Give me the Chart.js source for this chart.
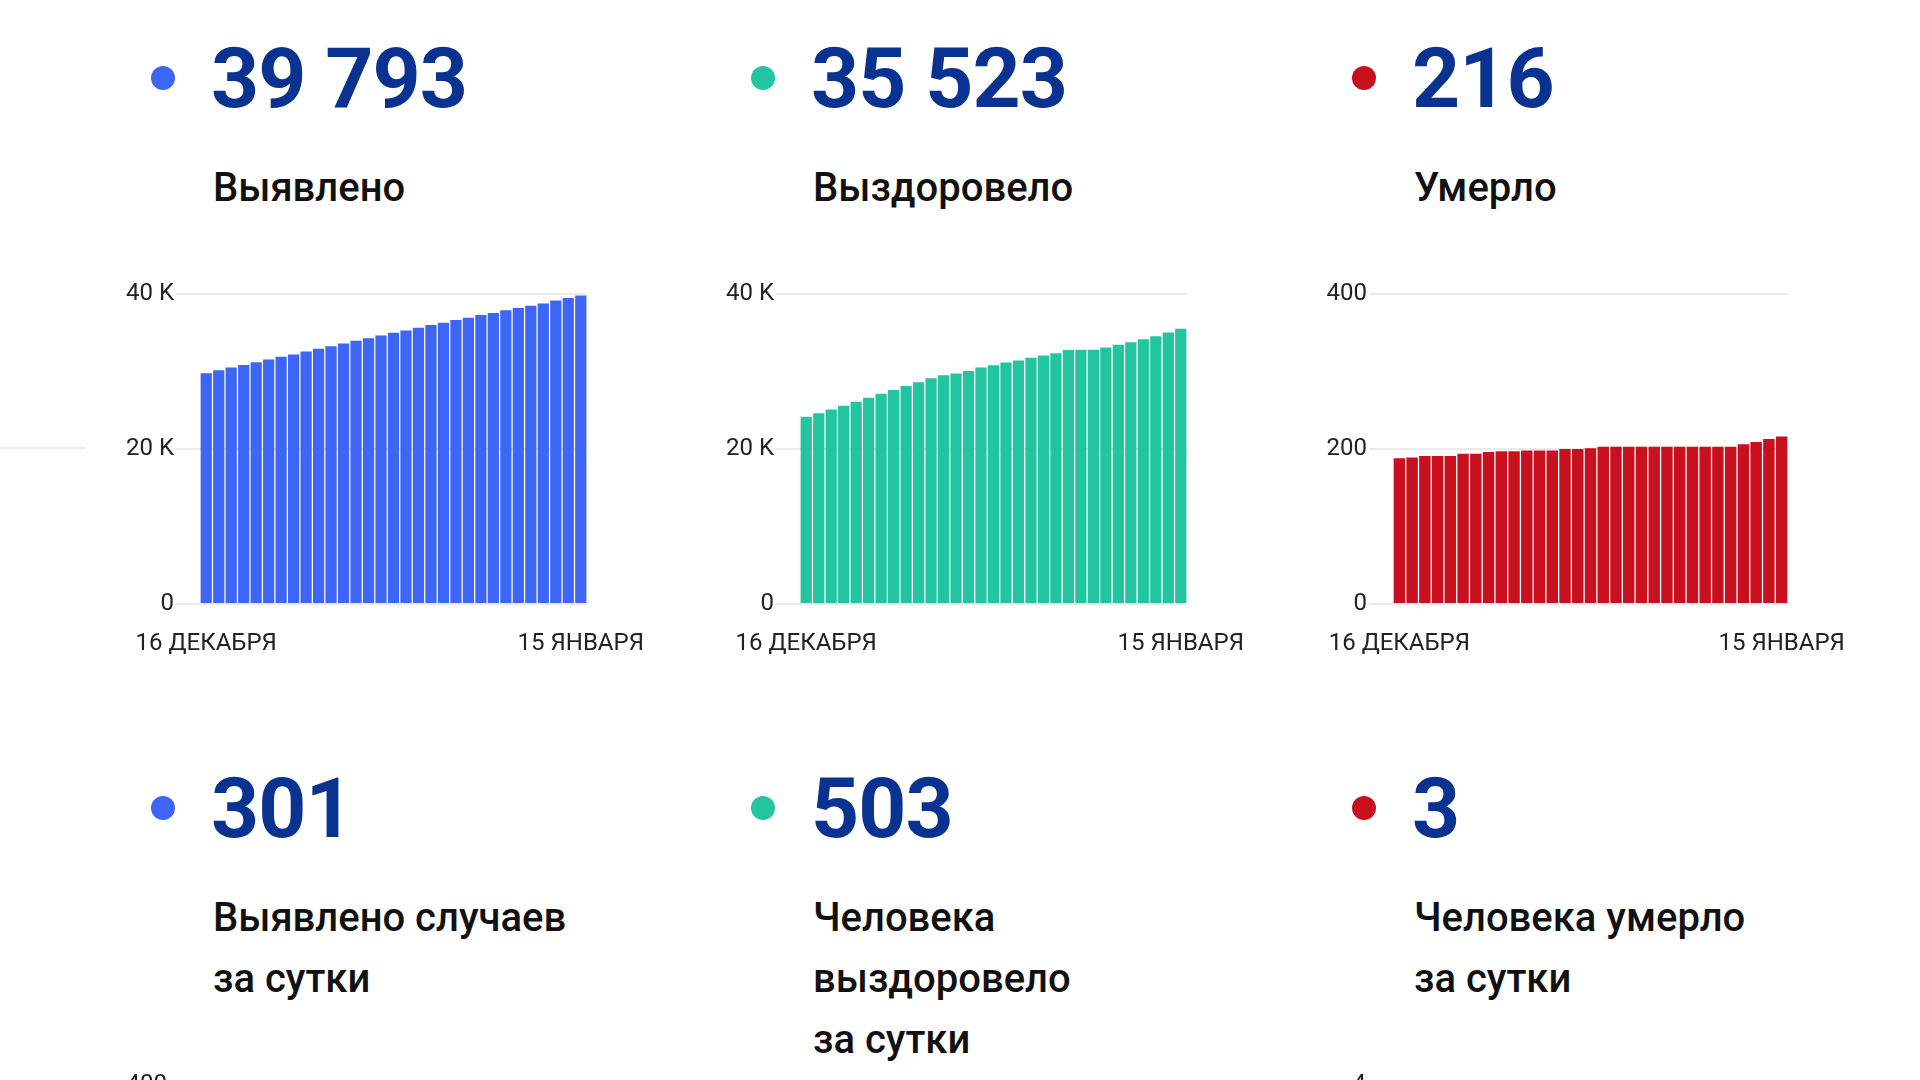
<!DOCTYPE html>
<html>
<head>
<meta charset="utf-8">
<script src="https://cdn.jsdelivr.net/npm/chart.js@4.4.1/dist/chart.umd.min.js"></script>
<style>
  html, body { margin:0; padding:0; background:#fff; }
  body { width:1920px; height:1080px; overflow:hidden; position:relative; font-family:Roboto, sans-serif; }
  .dot { position:absolute; width:24px; height:24px; border-radius:50%; }
  .num { position:absolute; font-weight:700; font-size:84px; line-height:84px; color:#0a3391; letter-spacing:-1px; white-space:nowrap; }
  .cap { position:absolute; font-weight:500; font-size:40px; line-height:61px; color:#111; white-space:nowrap; }
  .box { position:absolute; }
  .stray { position:absolute; left:0; top:447px; width:86px; height:2px; background:#eeeeee; }
</style>
</head>
<body>
<div class="stray"></div>

<div class="dot" style="left:151px;top:66px;background:#3d66f6"></div>
<div class="num" style="left:211px;top:37px">39 793</div>
<div class="cap" style="left:213px;top:157px">Выявлено</div>
<div class="box" style="left:100px;top:274px"><canvas id="c1" width="587" height="390"></canvas></div>

<div class="dot" style="left:751px;top:66px;background:#22c59f"></div>
<div class="num" style="left:811px;top:37px">35 523</div>
<div class="cap" style="left:813px;top:157px">Выздоровело</div>
<div class="box" style="left:700px;top:274px"><canvas id="c2" width="587" height="390"></canvas></div>

<div class="dot" style="left:1352px;top:66px;background:#c8101f"></div>
<div class="num" style="left:1412px;top:37px">216</div>
<div class="cap" style="left:1414px;top:157px">Умерло</div>
<div class="box" style="left:1293px;top:274px"><canvas id="c3" width="595" height="390"></canvas></div>

<div class="dot" style="left:151px;top:796px;background:#3d66f6"></div>
<div class="num" style="left:211px;top:767px">301</div>
<div class="cap" style="left:213px;top:887px">Выявлено случаев<br>за сутки</div>
<div class="box" style="left:93px;top:1065px"><canvas id="c4" width="594" height="390"></canvas></div>

<div class="dot" style="left:751px;top:796px;background:#22c59f"></div>
<div class="num" style="left:811px;top:767px">503</div>
<div class="cap" style="left:813px;top:887px">Человека<br>выздоровело<br>за сутки</div>

<div class="dot" style="left:1352px;top:796px;background:#c8101f"></div>
<div class="num" style="left:1412px;top:767px">3</div>
<div class="cap" style="left:1414px;top:887px">Человека умерло<br>за сутки</div>
<div class="box" style="left:1292px;top:1065px"><canvas id="c6" width="596" height="390"></canvas></div>

<script>
const days = ['16 ДЕКАБРЯ','17 ДЕКАБРЯ','18 ДЕКАБРЯ','19 ДЕКАБРЯ','20 ДЕКАБРЯ','21 ДЕКАБРЯ','22 ДЕКАБРЯ','23 ДЕКАБРЯ',
  '24 ДЕКАБРЯ','25 ДЕКАБРЯ','26 ДЕКАБРЯ','27 ДЕКАБРЯ','28 ДЕКАБРЯ','29 ДЕКАБРЯ','30 ДЕКАБРЯ','31 ДЕКАБРЯ',
  '1 ЯНВАРЯ','2 ЯНВАРЯ','3 ЯНВАРЯ','4 ЯНВАРЯ','5 ЯНВАРЯ','6 ЯНВАРЯ','7 ЯНВАРЯ','8 ЯНВАРЯ',
  '9 ЯНВАРЯ','10 ЯНВАРЯ','11 ЯНВАРЯ','12 ЯНВАРЯ','13 ЯНВАРЯ','14 ЯНВАРЯ','15 ЯНВАРЯ'];

const cases = [29770,30160,30510,30850,31200,31540,31890,32190,32580,32920,
  33270,33610,33960,34300,34650,34990,35300,35640,35990,36290,
  36630,36940,37280,37540,37890,38190,38490,38790,39150,39492,39793];

const recovered = [24160,24600,25110,25590,26110,26620,27140,27620,28130,28610,
  29130,29510,29730,30080,30510,30810,31150,31410,31760,32060,32360,
  32790,32800,32810,33100,33440,33790,34170,34560,35020,35523];

const deaths = [188,189,191,191,191,194,194,196,197,197,198,198,198,200,200,201,
  203,203,203,203,203,203,203,203,203,203,203,206,209,213,216];

const kTicks = [0, 20000, 40000];
const deathTicks = [0, 200, 400];

Chart.defaults.font.family = 'Roboto';
Chart.defaults.font.size = 24;
Chart.defaults.color = '#222';

const makeChart = (id, labels, values, color, yMax, fmt) => {
  const ctx = document.getElementById(id);
  new Chart(ctx, {
    type: 'bar',
    data: {
      labels: labels,
      datasets: values ? [{
        data: values,
        backgroundColor: color,
        barPercentage: 0.9,
        categoryPercentage: 1
      }] : []
    },
    options: {
      responsive: false,
      animation: false,
      layout: { padding: { top: 20, right: 100, left: 0, bottom: 0 } },
      plugins: { legend: { display: false }, tooltip: { enabled: false } },
      scales: {
        x: {
          grid: { display: false, drawTicks: false },
          border: { display: false },
          ticks: {
            autoSkip: false,
            maxRotation: 0,
            padding: 26,
            callback: function (v, i) {
              return (i === 0 || i === labels.length - 1) ? labels[i] : '';
            }
          },
          afterFit: s => { s.height = 60; }
        },
        y: {
          min: 0,
          max: yMax,
          border: { display: false },
          grid: { color: '#ebebeb', lineWidth: 2, tickLength: 24 },
          ticks: {
            stepSize: yMax / 2,
            padding: 2,
            callback: fmt
          },
          afterFit: s => { s.width = 100; }
        }
      }
    }
  });
};

const fmtK = v => v === 0 ? '0' : (v / 1000) + ' K';
const fmtN = v => String(v);

makeChart('c1', days, cases, '#3d66f6', kTicks[2], fmtK);
makeChart('c2', days, recovered, '#22c59f', kTicks[2], fmtK);
makeChart('c3', days, deaths, '#c8101f', deathTicks[2], fmtN);
makeChart('c4', days, null, '#3d66f6', 400, fmtN);
makeChart('c6', days, null, '#c8101f', 4, fmtN);
</script>
</body>
</html>
